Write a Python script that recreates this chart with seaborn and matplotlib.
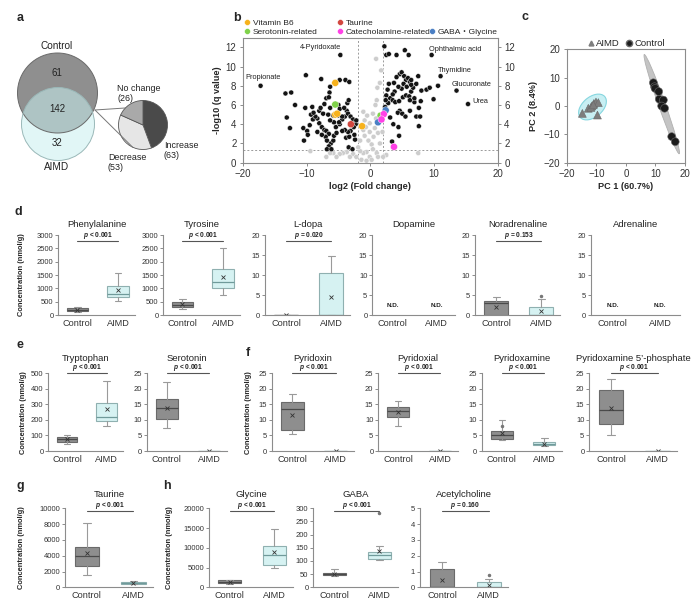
import numpy as np
import pandas as pd
import matplotlib
matplotlib.use("Agg")
import matplotlib.pyplot as plt
import seaborn as sns
from matplotlib.patches import Circle, Ellipse
from matplotlib.lines import Line2D

sns.set_style("ticks")
plt.rcParams["font.family"] = ["Liberation Sans", "Noto Sans CJK JP", "DejaVu Sans"]
plt.rcParams["mathtext.fontset"] = "custom"
plt.rcParams["mathtext.it"] = "Liberation Sans:italic:bold"
plt.rcParams["axes.edgecolor"] = "#8c8c8c"
plt.rcParams["axes.linewidth"] = 0.8
plt.rcParams["xtick.color"] = "#8c8c8c"
plt.rcParams["ytick.color"] = "#8c8c8c"
plt.rcParams["xtick.labelcolor"] = "#333333"
plt.rcParams["ytick.labelcolor"] = "#333333"

# ---------------- data ----------------
groups = ["Control", "AIMD"]

# a: Venn + pie
venn_values = [61, 142, 32]          # control only, shared, AIMD only
pie_labels = ["Increase", "Decrease", "No change"]
pie_values = [63, 53, 26]

# b: volcano (log2 fold change, -log10 q)
sig_fc = [-13.3, -12.4, -11.8, -10.1, -7.7, -10.2, -9.1, -10.5, -9.9, -9.8, -10.4, -9.5, -9.0, -8.3,
          -8.0, -7.8, -7.2, -6.9, -6.4, -6.5, -6.3, -13.1, -12.6, -8.0, -7.6, -7.2, -6.9, -6.5, -7.0,
          -6.8, -6.2, -6.5, -6.8, -6.1, -5.8, -5.7, -5.3, -5.4, -4.8, -4.4, -4.0, -3.7, -3.6, -3.4,
          -3.9, -3.3, -4.8, -5.0, -4.8, -4.1, -3.5, -3.1, -2.7, -2.3, -2.6, -3.1, -3.5, -4.0, -4.4,
          -3.8, -3.3, -2.5, -2.4, -3.4, -2.8, -2.2, -5.8, -5.1, -4.4, -5.7, -4.9, -8.6, -8.3, -7.6,
          -7.4, -6.6, -6.3, -9.3, -8.9, -6.3,
          2.2, 2.5, 2.9, 4.1, 5.4, 6.0, 4.6, 4.9, 5.3, 5.6, 5.9, 6.2, 6.4, 5.2, 5.7, 4.9, 4.4, 3.8,
          3.5, 3.1, 2.5, 2.9, 2.8, 3.5, 3.9, 4.5, 5.1, 5.6, 6.1, 6.4, 6.7, 7.2, 7.5, 8.0, 8.8, 9.3,
          10.6, 9.9, 7.9, 7.6, 6.9, 6.2, 4.6, 4.3, 5.0, 5.5, 6.2, 4.4, 3.6, 3.1, 3.4, 4.5, 7.2, 7.6,
          7.8, 2.4, 2.3, 2.7, 3.7, 4.1, 6.4, 6.9]
sig_q = [7.2, 7.3, 6.0, 9.1, 8.7, 5.7, 5.8, 3.6, 3.3, 2.9, 2.3, 3.9, 4.5, 4.6,
         5.4, 5.7, 6.1, 6.7, 7.3, 6.8, 7.9, 4.7, 3.6, 4.1, 3.7, 3.4, 3.3, 3.0, 2.7,
         2.3, 2.0, 1.7, 1.4, 1.4, 2.3, 2.8, 3.1, 3.7, 4.0, 4.5, 4.8, 5.4, 6.2, 6.5,
         8.6, 8.4, 8.6, 6.0, 5.6, 5.7, 5.1, 4.8, 4.5, 4.0, 3.7, 3.3, 3.2, 3.4, 3.3,
         2.6, 2.7, 2.9, 2.4, 1.6, 1.4, 4.4, 4.9, 4.9, 4.8, 4.2, 4.2, 4.8, 3.2, 2.9,
         5.1, 5.0, 5.7, 5.0, 5.2, 4.4,
         12.1, 11.2, 11.3, 11.2, 11.7, 11.2, 9.2, 9.4, 9.0, 8.6, 8.8, 8.4, 8.6, 8.2, 7.9, 7.7, 7.9, 7.4,
         7.1, 6.7, 7.0, 8.2, 6.2, 6.5, 6.3, 6.4, 6.8, 7.0, 6.9, 7.4, 7.8, 8.2, 9.0, 7.5, 7.6, 7.8,
         8.0, 6.6, 6.4, 5.7, 6.3, 6.5, 5.4, 5.2, 5.1, 4.8, 5.4, 3.7, 4.0, 4.7, 2.2, 2.8, 4.8, 3.8,
         4.8, 6.5, 5.8, 7.6, 8.3, 8.9, 8.1, 6.7]
ns_fc = [0.9, 1.7, 1.5, 1.1, 1.0, 0.8, 0.4, 0.9, -0.1, -0.5, -1.1, -0.9, -1.1, -0.9, -0.3, 0.2,
         0.5, 0.4, 1.0, 1.2, -0.1, -0.6, -1.1, -1.6, -1.9, -2.7, -3.2, -3.7, -4.3, -4.8, -5.3,
         -5.8, -6.3, -6.9, -9.4, -2.2, -1.4, -0.6, 0.2, 7.5, 2.5, 2.0, 1.5, 0.7, 1.2, 1.9, -0.7,
         -0.1, -1.6]
ns_q = [10.8, 9.6, 8.3, 7.8, 6.5, 6.0, 5.1, 4.6, 4.1, 4.9, 5.3, 4.4, 3.4, 2.8, 2.3, 1.9,
        2.7, 1.4, 1.0, 0.6, 0.6, 1.1, 1.0, 1.2, 1.6, 0.9, 0.6, 1.1, 1.0, 0.9, 0.6,
        1.0, 1.0, 0.6, 1.2, 0.6, 0.3, 0.2, 0.3, 1.0, 0.8, 0.6, 2.0, 3.6, 3.1, 3.2, 3.7,
        3.2, 2.3]
class_names = ["Vitamin B6", "Taurine", "GABA・Glycine", "Serotonin-related", "Catecholamine-related"]
class_colors = ["#f7b21c", "#d2473f", "#4a7fc4", "#7fd24a", "#ff40e6"]
class_fc = [[-5.5, -5.5, -5.2, -1.3], [-3.05], [2.4, 1.2], [-5.5, 1.6], [2.1, 1.75, 3.7]]
class_q = [[8.3, 5.0, 5.1, 3.8], [4.0], [5.45, 4.2], [6.05, 4.9], [5.05, 4.5, 1.65]]
named = ["Propionate", "4-Pyridoxate", "Ophthalmic acid", "Thymidine", "Glucuronate", "Urea"]
named_fc = [-17.2, -4.7, 9.6, 11.0, 13.5, 15.3]
named_q = [8.0, 11.2, 11.2, 9.0, 7.5, 6.1]

# c: PCA scores
aimd_pc1 = [-14.7, -9.6, -12.7, -11.5, -10.8, -10.1, -9.3, -11.8, -11.0]
aimd_pc2 = [-2.6, -3.2, -0.8, 0.0, 0.9, 1.4, 1.2, -0.5, 0.4]
ctrl_pc1 = [9.3, 9.7, 9.9, 11.1, 11.3, 12.7, 12.1, 13.1, 15.5, 16.7]
ctrl_pc2 = [8.2, 6.8, 6.2, 5.1, 2.4, 2.1, 0.0, -0.8, -10.8, -12.6]

# d-h: box stats [whisker low, Q1, median, Q3, whisker high, mean]
phe = [[100, 150, 190, 250, 310, 200], [540, 660, 775, 1090, 1590, 940]]
tyr = [[210, 290, 375, 475, 590, 410], [750, 1000, 1225, 1725, 2500, 1410]]
ldopa = [[0, 0, 0.1, 0.1, 0.1, 0.1], [0, 0, 0, 10.4, 14.8, 4.6]]
noradr = [[0, 0, 2.9, 3.6, 4.6, 2.1], [0, 0, 0, 1.9, 3.9, 1.1]]
noradr_out = [[], [4.75]]
trp = [[45, 60, 75, 88, 103, 75], [163, 195, 221, 311, 453, 268]]
ser = [[7.3, 10.3, 13.7, 16.8, 22.1, 13.9], [0, 0, 0, 0, 0, 0]]
pyridoxin = [[5.4, 6.9, 13.4, 15.8, 18.3, 11.5], [0, 0, 0, 0, 0, 0]]
pyridoxal = [[8.1, 11.0, 12.8, 14.1, 16.2, 12.5], [0, 0, 0, 0, 0, 0]]
pyridoxamine = [[3.7, 4.0, 5.1, 6.5, 9.9, 5.8], [1.5, 1.8, 2.3, 2.9, 4.1, 2.1]]
pyridoxamine_out = [[8.2], []]
p5p = [[5.3, 8.8, 13.2, 19.6, 23.1, 13.9], [0, 0, 0, 0, 0, 0]]
taurine = [[1560, 2700, 4010, 5150, 8100, 4390], [420, 470, 590, 675, 760, 590]]
glycine = [[940, 1110, 1360, 1790, 1960, 1360], [4940, 5620, 8250, 10550, 14640, 9020]]
gaba = [[42, 45, 51, 56, 68, 51], [103, 109, 121, 135, 157, 138]]
gaba_out = [[], [281]]
ach = [[0, 0, 0, 1.16, 1.58, 0.46], [0, 0, 0, 0.32, 0.55, 0.15]]
ach_out = [[], [0.78]]

# ---------------- figure ----------------
fig = plt.figure(figsize=(7, 6.05), dpi=100)
W, H = 700, 605


def rect(l, t, r, b):
    return [l / W, 1 - b / H, (r - l) / W, (b - t) / H]


def letter(x, y, s):
    fig.text(x / W, 1 - y / H, s, fontsize=9, fontweight="bold", ha="center", va="center")


# ---- a: Venn + pie ----
ax_a = fig.add_axes(rect(0, 0, 230, 190))
ax_a.add_patch(Circle((57.5, 97), 40, facecolor="#8f8f8f", edgecolor="none"))
ax_a.add_patch(Circle((58, 66), 36.5, facecolor="#c9f0f0", alpha=0.55, edgecolor="none"))
ax_a.add_patch(Circle((57.5, 97), 40, facecolor="none", edgecolor="#6a6a6a", lw=0.7))
ax_a.add_patch(Circle((58, 66), 36.5, facecolor="none", edgecolor="#9ab8b8", lw=0.7))
ax_a.text(57, 144, "Control", ha="center", va="center", fontsize=7.2, color="#222")
ax_a.text(57, 23.3, "AIMD", ha="center", va="center", fontsize=7.2, color="#222")
for yv, v in zip([116.7, 80.7, 47.3], venn_values):
    ax_a.text(57, yv, str(v), ha="center", va="center", fontsize=7, color="#222")
pie_center, pie_r = (143, 65), 24.5
wedges, _ = ax_a.pie(pie_values, colors=["#4a4a4a", "#e6e6e6", "#a9a9a9"], startangle=90,
                     counterclock=False, center=pie_center, radius=pie_r, frame=True,
                     wedgeprops=dict(edgecolor="#555555", linewidth=0.6))
for ang in (136, 245):
    ex = pie_center[0] + pie_r * np.cos(np.radians(ang))
    ey = pie_center[1] + pie_r * np.sin(np.radians(ang))
    ax_a.plot([95, ex], [80, ey], color="#777777", lw=0.7)
ax_a.text(117, 106, f"No change\n({pie_values[2]})", ha="left", va="top", fontsize=6.4, color="#222", linespacing=1.1)
ax_a.text(164, 49, f"Increase\n({pie_values[0]})", ha="left", va="top", fontsize=6.4, color="#222", linespacing=1.1)
ax_a.text(108, 37, f"Decrease\n({pie_values[1]})", ha="left", va="top", fontsize=6.4, color="#222", linespacing=1.1)
ax_a.set_xlim(0, 230)
ax_a.set_ylim(0, 190)
ax_a.axis("off")
letter(20, 18, "a")

# ---- b: volcano ----
ax_b = fig.add_axes(rect(242.7, 37.7, 498, 162.7))
base = pd.DataFrame({
    "fc": ns_fc + sig_fc + named_fc,
    "q": ns_q + sig_q + named_q,
    "kind": ["ns"] * len(ns_fc) + ["sig"] * (len(sig_fc) + len(named_fc)),
})
sns.scatterplot(data=base, x="fc", y="q", hue="kind", palette={"ns": "#cdcdcd", "sig": "#141414"},
                s=13, edgecolor="white", linewidth=0.3, legend=False, ax=ax_b, zorder=3)
hl = pd.DataFrame({
    "fc": sum(class_fc, []),
    "q": sum(class_q, []),
    "cls": sum([[n] * len(v) for n, v in zip(class_names, class_fc)], []),
})
sns.scatterplot(data=hl, x="fc", y="q", hue="cls", palette=dict(zip(class_names, class_colors)),
                s=26, edgecolor="white", linewidth=0.3, legend=False, ax=ax_b, zorder=4)
for x0 in (-2, 2):
    ax_b.axvline(x0, color="#9a9a9a", lw=0.7, ls=(0, (2, 2)), zorder=1)
ax_b.axhline(-np.log10(0.05), color="#9a9a9a", lw=0.7, ls=(0, (2, 2)), zorder=1)
offsets = [(-11, 5.6, "left"), (0.5, 5.6, "right"), (-1.8, 4, "left"),
           (-1.8, 4, "left"), (-3.2, 4.2, "left"), (2.8, 2, "left")]
for name, fx, qy, (dx, dy, ha) in zip(named, named_fc, named_q, offsets):
    ax_b.annotate(name, (fx, qy), xytext=(dx, dy), textcoords="offset points",
                  ha=ha, va="center", fontsize=5.3, color="#222")
ax_b.set_xlim(-20, 20)
ax_b.set_ylim(0, 13)
ax_b.set_xticks([-20, -10, 0, 10, 20])
ax_b.set_yticks(range(0, 13, 2))
ax_b.tick_params(labelsize=7, length=2.5, width=0.7, right=True, labelright=True, pad=2)
ax_b.set_xlabel("log2 (Fold change)", fontsize=6.6, fontweight="bold", labelpad=2)
ax_b.set_ylabel("-log10 (q value)", fontsize=6.6, fontweight="bold", labelpad=3)
# legend in three columns above the plot
cols = [(0, 3), (1, 4), (2,)]
anchors = [0.003, 0.367, 0.728]
for k, (idx, xa) in enumerate(zip(cols, anchors)):
    hnd = [Line2D([], [], ls="", marker="o", ms=4.2, mfc=class_colors[i], mec="white", mew=0.3) for i in idx]
    lg = ax_b.legend(hnd, [class_names[i] for i in idx], loc="lower left", bbox_to_anchor=(xa, 1.015),
                     frameon=False, fontsize=6, handlelength=0.8, handletextpad=0.3,
                     labelspacing=0.15, borderaxespad=0, borderpad=0)
    if k < 2:
        ax_b.add_artist(lg)
letter(237, 18, "b")

# ---- c: PCA ----
ax_c = fig.add_axes(rect(566.7, 49.3, 685, 162.7))


def conf_ellipse(x, y, nstd, **kw):
    cov = np.cov(x, y)
    vals, vecs = np.linalg.eigh(cov)
    order = vals.argsort()[::-1]
    vals, vecs = vals[order], vecs[:, order]
    ang = np.degrees(np.arctan2(vecs[1, 0], vecs[0, 0]))
    w, h = 2 * nstd * np.sqrt(vals)
    return Ellipse((np.mean(x), np.mean(y)), w, h, angle=ang, **kw)


ax_c.add_patch(conf_ellipse(aimd_pc1, aimd_pc2, 2.8, facecolor="#c8eff3", edgecolor="#86d6df",
                            lw=0.8, zorder=1))
ax_c.add_patch(conf_ellipse(ctrl_pc1, ctrl_pc2, 2.45, facecolor="#c4c4c4", edgecolor="#b0b0b0",
                            lw=0.6, zorder=1))
pca = pd.DataFrame({"pc1": aimd_pc1 + ctrl_pc1, "pc2": aimd_pc2 + ctrl_pc2,
                    "grp": ["AIMD"] * len(aimd_pc1) + ["Control"] * len(ctrl_pc1)})
sns.scatterplot(data=pca, x="pc1", y="pc2", hue="grp", style="grp",
                markers={"AIMD": "^", "Control": "o"},
                palette={"AIMD": "#7d7d7d", "Control": "#1c1c1c"},
                s=32, edgecolor="#6a6a6a", linewidth=0.4, legend=False, ax=ax_c, zorder=3)
ax_c.set_xlim(-20, 20)
ax_c.set_ylim(-20, 20)
ax_c.set_xticks([-20, -10, 0, 10, 20])
ax_c.set_yticks([-20, -10, 0, 10, 20])
ax_c.tick_params(labelsize=7, length=2.5, width=0.7, pad=2)
ax_c.set_xlabel("PC 1 (60.7%)", fontsize=6.6, fontweight="bold", labelpad=2)
ax_c.set_ylabel("PC 2 (8.4%)", fontsize=6.6, fontweight="bold", labelpad=4)
hnd = [Line2D([], [], ls="", marker="^", ms=3.5, mfc="#7d7d7d", mec="#7d7d7d"),
       Line2D([], [], ls="", marker="o", ms=4.5, mfc="#1c1c1c", mec="#6a6a6a")]
ax_c.legend(hnd, ["AIMD", "Control"], ncol=2, loc="lower center", bbox_to_anchor=(0.5, 1.0),
            frameon=False, fontsize=6.8, handlelength=0.8, handletextpad=0.2, columnspacing=0.5,
            borderaxespad=0, borderpad=0.1)
letter(525, 17, "c")

# ---- d-h: box panels ----
row_d = (235, 315, 0.93, 6)
row_e = (373.3, 451, 1.0, 9)
row_g = (508.3, 587.3, 0.96, 8)


def box_panel(l, r, row, title, data, ymax, ystep, ptxt=None, fliers=([], []), ylab_x=None, nd=False):
    top, bot, bar_frac, tpad = row
    ax = fig.add_axes(rect(l, top, r, bot))
    if nd:
        for i in range(2):
            ax.text(i, ymax * 0.12, "N.D.", ha="center", va="center", fontsize=4.6, fontweight="bold", color="#222")
    else:
        stats = [dict(whislo=v[0], q1=v[1], med=v[2], q3=v[3], whishi=v[4], mean=v[5], fliers=f)
                 for v, f in zip(data, fliers)]
        bp = ax.bxp(stats, positions=[0, 1], widths=0.52, patch_artist=True, showmeans=True,
                    showfliers=True, capwidths=0.16,
                    whiskerprops=dict(color="#9a9a9a", lw=0.8),
                    capprops=dict(color="#9a9a9a", lw=0.8),
                    meanprops=dict(marker="x", ms=3, mec="#333333", mew=0.6),
                    flierprops=dict(marker="o", ms=1.5, mfc="#777777", mec="#777777"))
        for patch, fc, ec in zip(bp["boxes"], ["#8e8e8e", "#d6f2f2"], ["#6a6a6a", "#8fb0b0"]):
            patch.set_facecolor(fc)
            patch.set_edgecolor(ec)
            patch.set_linewidth(0.8)
        for med, mc in zip(bp["medians"], ["#4a4a4a", "#6f9a9a"]):
            med.set_color(mc)
            med.set_linewidth(0.9)
    if ptxt:
        yb = ymax * bar_frac
        ax.plot([0, 1], [yb, yb], color="#555555", lw=0.8, clip_on=False)
        ax.text(0.5, yb, r"$\mathit{p}$ " + ptxt, ha="center", va="bottom", fontsize=4.8,
                fontweight="bold", color="#222")
    ax.set_xlim(-0.47, 1.42)
    ax.set_ylim(0, ymax)
    ax.set_xticks([0, 1])
    ax.set_xticklabels(groups)
    ax.set_yticks(np.arange(0, ymax + ystep / 2, ystep))
    ax.tick_params(axis="y", labelsize=5.5, length=2, width=0.7, pad=1.5)
    ax.tick_params(axis="x", labelsize=6.6, length=0, pad=3)
    ax.set_title(title, fontsize=6.8, pad=tpad, color="#222")
    sns.despine(ax=ax)
    if ylab_x is not None:
        ax.set_ylabel("Concentration (nmol/g)", fontsize=5.4, fontweight="bold")
        ax.yaxis.set_label_coords((ylab_x - l) / (r - l), 0.5)
    return ax


box_panel(58.3, 135, row_d, "Phenylalanine", phe, 3000, 500, "< 0.001", ylab_x=25)
box_panel(163.3, 240, row_d, "Tyrosine", tyr, 3000, 500, "< 0.001")
box_panel(265, 350, row_d, "L-dopa", ldopa, 20, 5, "= 0.020")
box_panel(372.3, 455, row_d, "Dopamine", None, 20, 5, nd=True)
box_panel(475, 560, row_d, "Noradrenaline", noradr, 20, 5, "= 0.153", fliers=noradr_out)
box_panel(590.7, 680, row_d, "Adrenaline", None, 20, 5, nd=True)
letter(18, 212, "d")

box_panel(48.3, 123.3, row_e, "Tryptophan", trp, 500, 100, "< 0.001", ylab_x=27)
box_panel(146.7, 226.7, row_e, "Serotonin", ser, 25, 5, "< 0.001")
box_panel(272, 354, row_e, "Pyridoxin", pyridoxin, 25, 5, "< 0.001", ylab_x=252)
box_panel(378.3, 458, row_e, "Pyridoxial", pyridoxal, 25, 5, "< 0.001")
box_panel(482, 562, row_e, "Pyridoxamine", pyridoxamine, 25, 5, "< 0.001", fliers=pyridoxamine_out)
box_panel(589.3, 677, row_e, "Pyridoxamine 5\u2019-phosphate", p5p, 25, 5, "< 0.001")
letter(20, 345, "e")
letter(248, 353, "f")

box_panel(65, 153, row_g, "Taurine", taurine, 10000, 2000, "< 0.001", ylab_x=25)
box_panel(209, 293, row_g, "Glycine", glycine, 20000, 5000, "< 0.001", ylab_x=173)
box_panel(313.3, 398, row_g, "GABA", gaba, 300, 50, "< 0.001", fliers=gaba_out)
box_panel(420, 508.3, row_g, "Acetylcholine", ach, 5, 1, "= 0.160", fliers=ach_out)
letter(20, 486, "g")
letter(167, 486, "h")

fig.savefig("out.png", dpi=100)
